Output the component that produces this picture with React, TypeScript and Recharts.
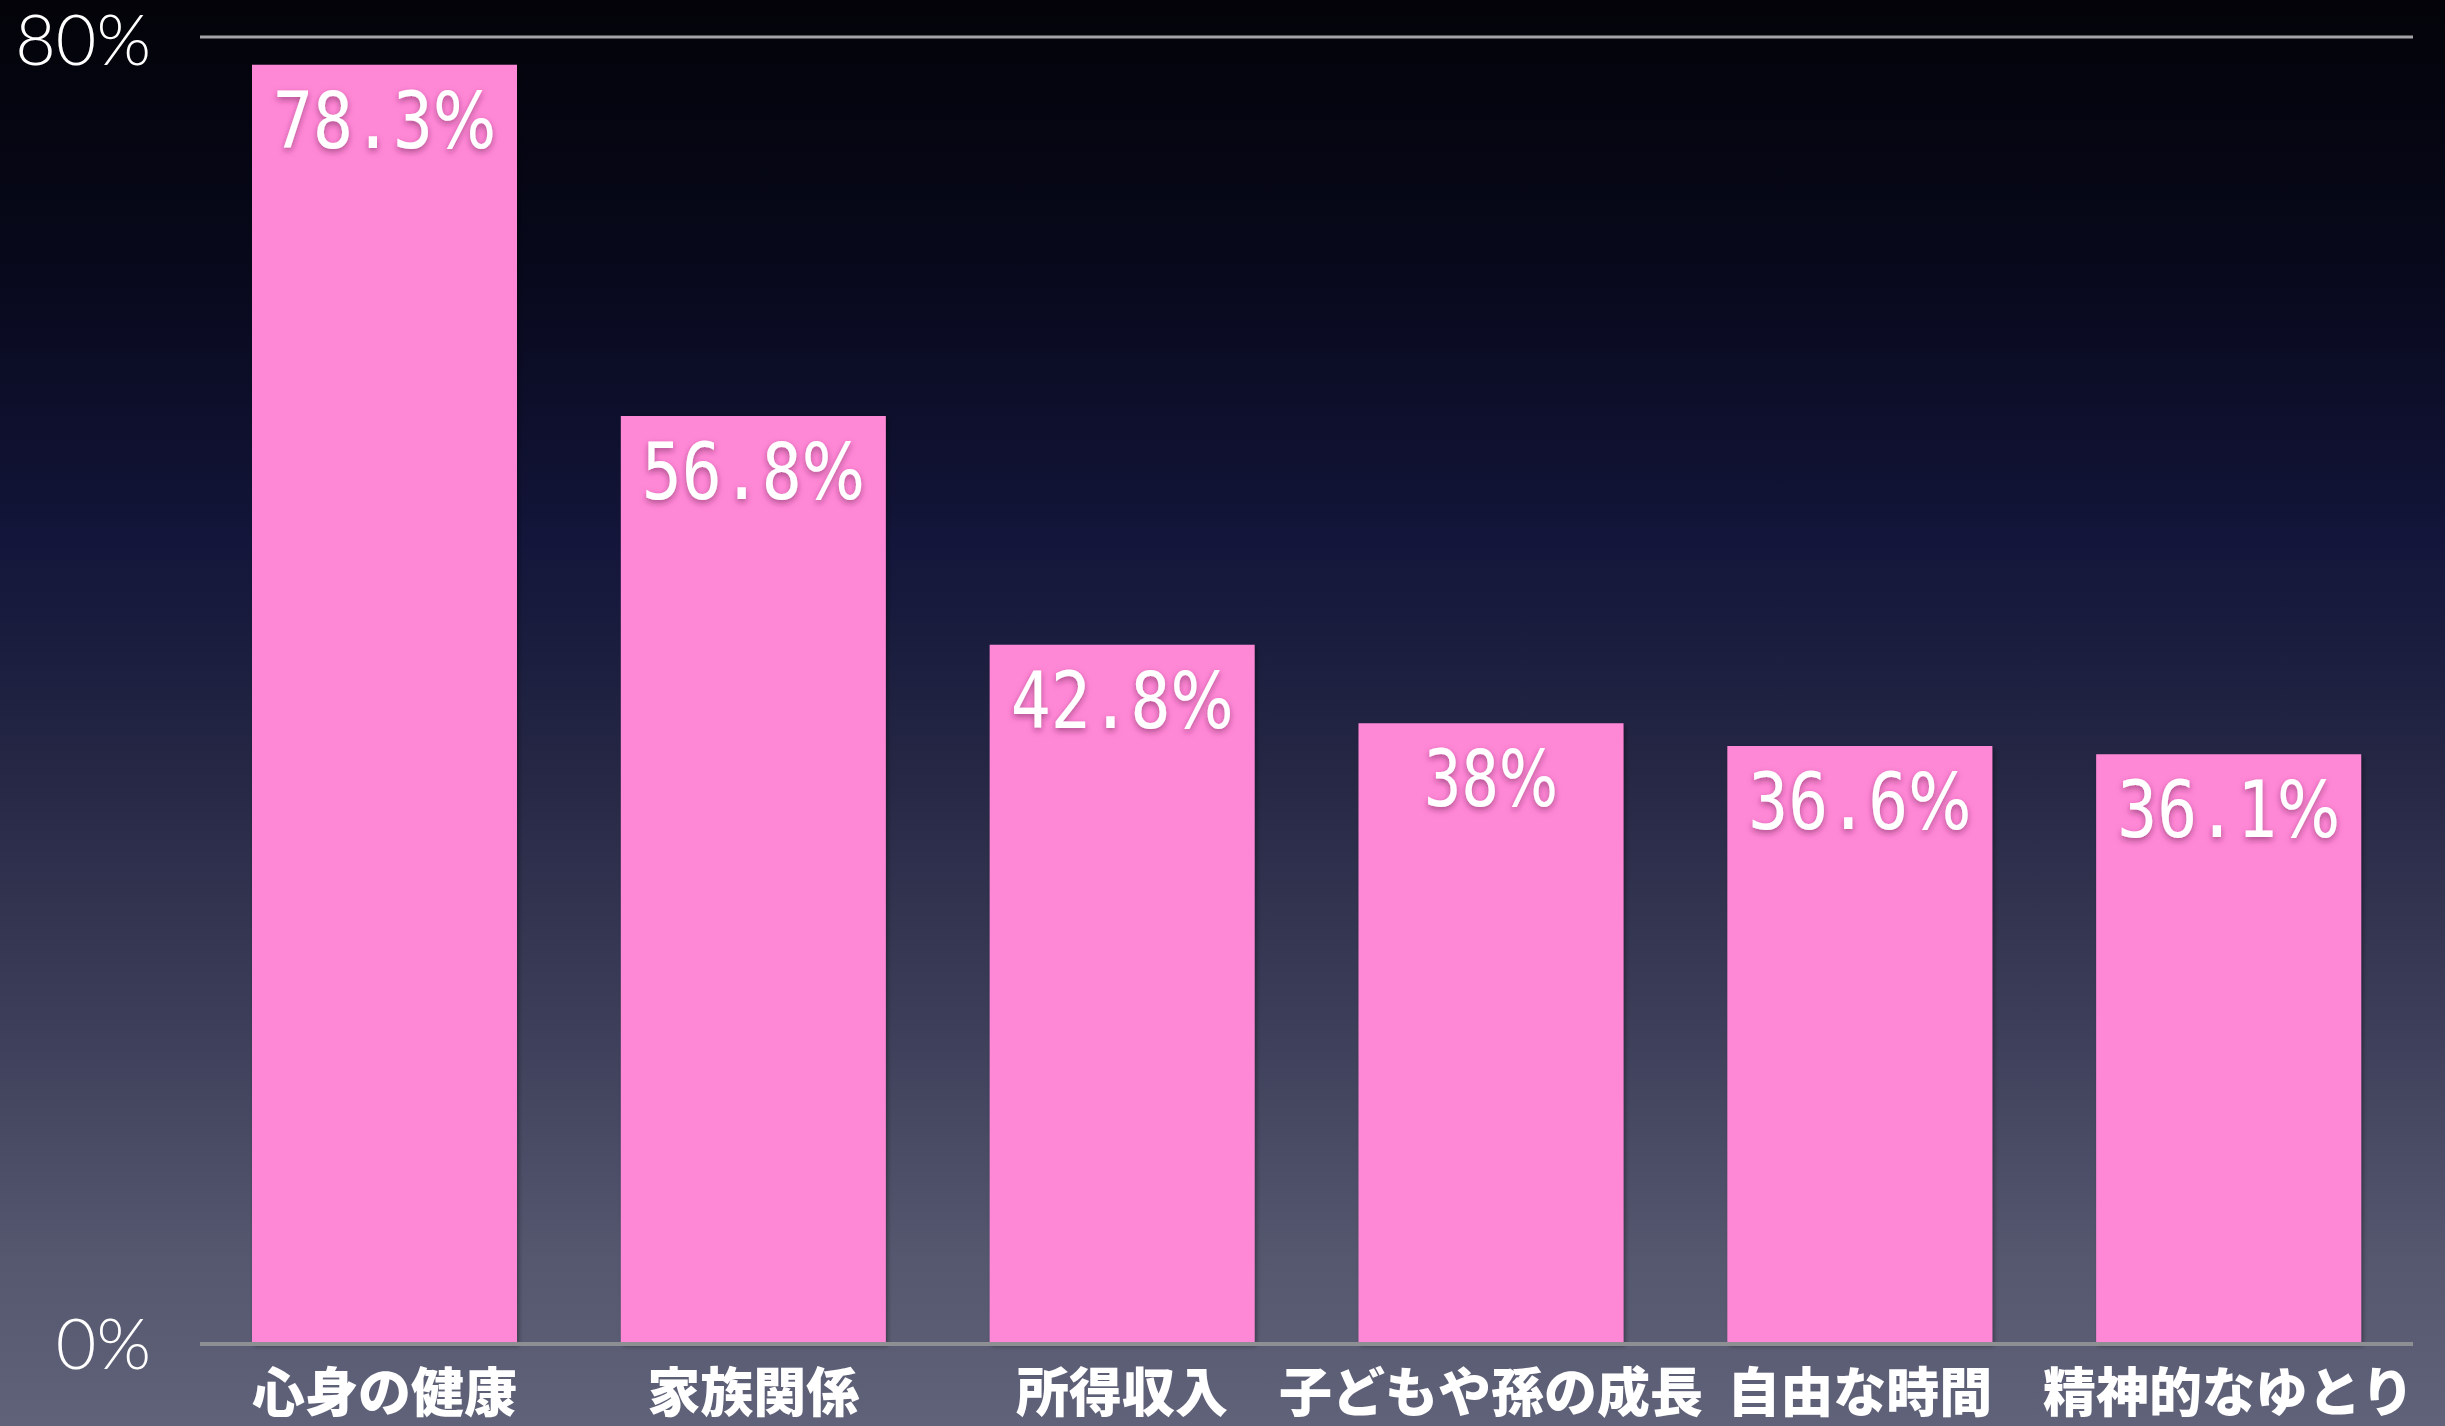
import React from "react";
import { BarChart, Bar, XAxis, YAxis, CartesianGrid, LabelList } from "recharts";

const categories = ["心身の健康", "家族関係", "所得収入", "子どもや孫の成長", "自由な時間", "精神的なゆとり"];
const values = [78.3, 56.8, 42.8, 38, 36.6, 36.1];
const valueLabels = ["78.3", "56.8", "42.8", "38", "36.6", "36.1"];
const yTicks = [0, 80];

const data = categories.map((c, i) => ({ name: c, value: values[i], label: valueLabels[i] }));

const W = 2445;
const H = 1426;

const ValueLabel = (props: any) => {
  const { x, y, width, index } = props;
  const s = valueLabels[index];
  return (
    <text
      x={x + width / 2}
      y={y + 56}
      textAnchor="middle"
      dominantBaseline="central"
      fill="#ffffff"
      fontFamily="'DejaVu Sans Mono', monospace"
      fontSize={78}
      textLength={(s.length + 1) * 44.6}
      lengthAdjust="spacingAndGlyphs"
      filter="url(#txtShadow)"
    >
      <tspan>{s}</tspan>
      <tspan fontFamily="'DejaVu Sans', sans-serif">%</tspan>
    </text>
  );
};

export default function App() {
  return (
    <div
      style={{
        position: "absolute",
        left: 0,
        top: 0,
        width: W,
        height: H,
        background:
          "linear-gradient(to bottom, #030309 0%, #07081a 18%, #13153a 38%, #262845 55%, #3d3f5a 72%, #55576f 88%, #606279 100%)",
      }}
    >
      <BarChart
        width={W}
        height={H}
        data={data}
        margin={{ top: 37, right: 32, left: 0, bottom: 52 }}
        barSize={265}
      >
        <defs>
          <filter id="txtShadow" x="-20%" y="-20%" width="140%" height="160%">
            <feDropShadow dx="0" dy="3" stdDeviation="3" floodColor="#6a1a50" floodOpacity="0.55" />
          </filter>
          <filter id="barShadow" x="-5%" y="-5%" width="110%" height="110%">
            <feDropShadow dx="2" dy="2" stdDeviation="2" floodColor="#000000" floodOpacity="0.35" />
          </filter>
        </defs>
        <CartesianGrid vertical={false} stroke="#a4a4a8" strokeWidth={3} />
        <YAxis
          width={200}
          domain={[0, 80]}
          ticks={yTicks}
          tickFormatter={(v: number) => `${v}%`}
          axisLine={false}
          tickLine={false}
          tickSize={0}
          tickMargin={49}
          tick={{ fill: "#ffffff", fontSize: 70, fontFamily: "Lato, 'Open Sans', sans-serif", fontWeight: 300 }}
        />
        <XAxis
          dataKey="name"
          interval={0}
          axisLine={{ stroke: "#8e8f92", strokeWidth: 4 }}
          tickLine={false}
          tickSize={0}
          tickMargin={30}
          tick={{ fill: "#ffffff", fontSize: 53, fontFamily: "'Noto Sans CJK JP', sans-serif", fontWeight: 900 }}
        />
        <Bar dataKey="value" fill="#ff88d6" isAnimationActive={false} filter="url(#barShadow)">
          <LabelList dataKey="label" content={ValueLabel} />
        </Bar>
      </BarChart>
    </div>
  );
}
